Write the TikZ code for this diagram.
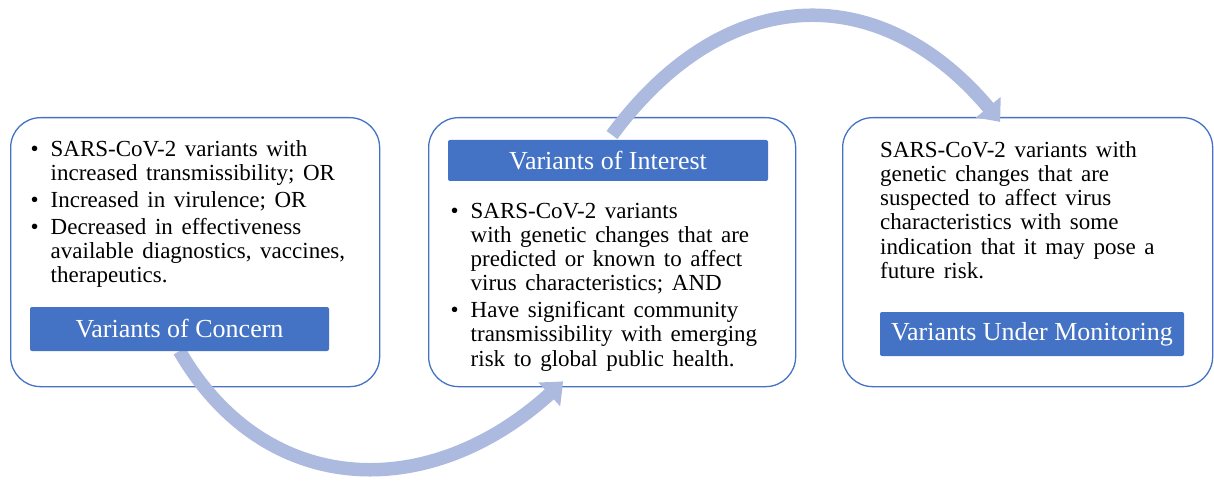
\documentclass[tikz,border=0pt]{standalone}
\usepackage{fontspec}
\setmainfont{Liberation Serif}[WordSpace=1.5]
\newfontfamily\labelfont{Liberation Serif}
\usetikzlibrary{arrows.meta,bending,calc}
\definecolor{framecol}{HTML}{4472C4}
\definecolor{labelcol}{HTML}{4472C4}
\definecolor{flowcol}{RGB}{172,186,223}
\newcommand{\bul}{\makebox[20pt][l]{\textbullet}}

\begin{document}
\begin{tikzpicture}[x=1pt,y=-1pt,
  panel/.style={draw=framecol, line width=1.3pt, rounded corners=30pt, fill=white,
                anchor=north west, minimum height=269pt, inner sep=0pt},
  tag/.style={fill=labelcol, rounded corners=2pt, text=white, inner sep=0pt,
              font=\labelfont\fontsize{26}{28}\selectfont},
  body/.style={inner sep=0pt, anchor=base west, font=\fontsize{23}{24.2}\selectfont},
  flow/.style={draw=flowcol, line width=13.5pt,
               -{Triangle[width=31pt,length=19pt,bend]}}
]
\useasboundingbox (0,0) rectangle (1214,481);

% three category panels
\node[panel, minimum width=369pt] (voc) at (10,117) {};
\node[panel, minimum width=367pt] (voi) at (428,117) {};
\node[panel, minimum width=370pt] (vum) at (842,117) {};

% progression arrows between the categories
\coordinate (vocStart) at (179.5,351);
\coordinate (voiEnd) at ($(voi.south west)+(135,-6)$);
\draw[flow] (vocStart) .. controls +(87.5,151.6) and +(-123.7,123.7) .. (voiEnd);
\coordinate (voiStart) at ($(voi.north west)+(184,18)$);
\coordinate (vumEnd) at ($(vum.north west)+(158,5)$);
\draw[flow] (voiStart) .. controls +(118,-160) and +(-108,-142) .. (vumEnd);

% category labels
\node[tag, minimum width=299pt, minimum height=44pt] (vocTag) at (179.5,329) {Variants of Concern};
\node[tag, minimum width=320pt, minimum height=41pt] (voiTag) at (608,160.5) {Variants of Interest};
\node[tag, minimum width=304pt, minimum height=44pt] (vumTag) at (1032,334) {Variants Under Monitoring};

% descriptions
\node[body] (vocText) at (30.5,156.5) {\begin{tabular}[t]{@{}l@{}l@{}}
\bul & SARS-CoV-2 variants with\\
     & increased transmissibility; OR\\[2.5pt]
\bul & Increased in virulence; OR\\[2.5pt]
\bul & Decreased in effectiveness\\
     & available diagnostics, vaccines,\\
     & therapeutics.
\end{tabular}};

\node[body] (voiText) at (450.5,218.3) {\begin{tabular}[t]{@{}l@{}l@{}}
\bul & SARS-CoV-2 variants\\
     & with genetic changes that are\\
     & predicted or known to affect\\
     & virus characteristics; AND\\[2.5pt]
\bul & Have significant community\\
     & transmissibility with emerging\\
     & risk to global public health.
\end{tabular}};

\node[body] (vumText) at (880,157.3) {\begin{tabular}[t]{@{}l@{}}
SARS-CoV-2 variants with\\
genetic changes that are\\
suspected to affect virus\\
characteristics with some\\
indication that it may pose a\\
future risk.
\end{tabular}};
\end{tikzpicture}
\end{document}
